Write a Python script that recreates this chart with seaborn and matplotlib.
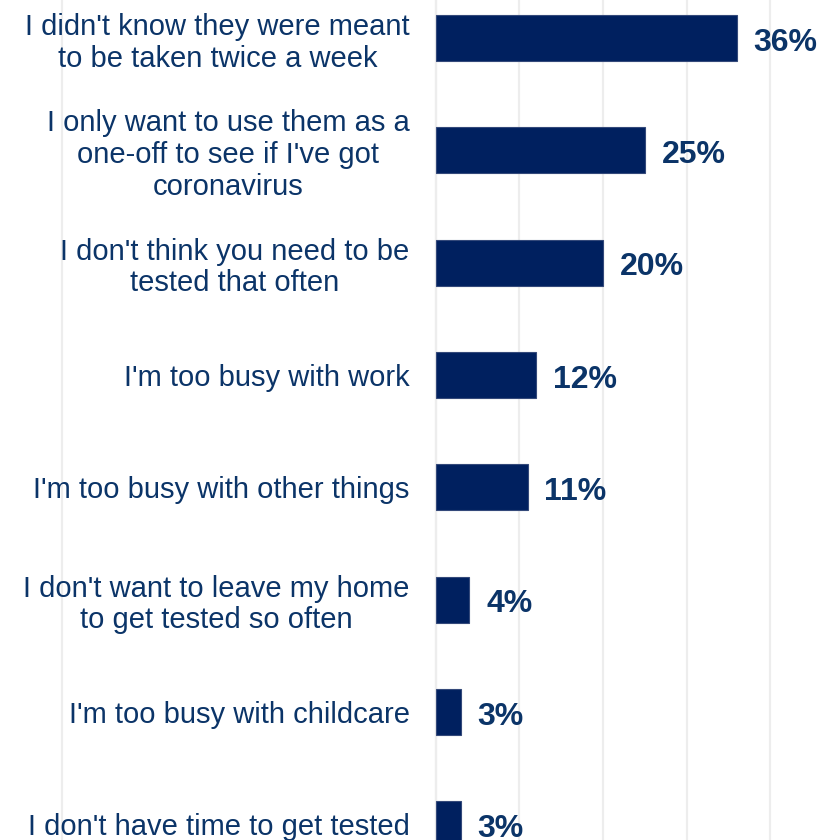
import matplotlib
matplotlib.use("Agg")
import matplotlib.pyplot as plt
from matplotlib.ticker import FixedLocator
import seaborn as sns
import pandas as pd

categories = [
    "I didn't know they were meant\nto be taken twice a week",
    "I only want to use them as a\none-off to see if I've got\ncoronavirus",
    "I don't think you need to be\ntested that often",
    "I'm too busy with work",
    "I'm too busy with other things",
    "I don't want to leave my home\nto get tested so often",
    "I'm too busy with childcare",
    "I don't have time to get tested",
]
values = [36, 25, 20, 12, 11, 4, 3, 3]
value_labels = ["36%", "25%", "20%", "12%", "11%", "4%", "3%", "3%"]
grid_ticks = [0, 10, 20, 30, 40]

BAR = "#00205F"
TEXT = "#0B3468"
GRID = "#EDEDED"

sns.set_style("white")
plt.rcParams["font.family"] = ["Liberation Sans", "DejaVu Sans"]

df = pd.DataFrame({"reason": categories, "pct": values})

fig = plt.figure(figsize=(8.39, 8.40), dpi=100)
ax = fig.add_axes([0, 0, 1, 1])

sns.barplot(data=df, x="pct", y="reason", orient="h", color=BAR,
            width=0.41, edgecolor="#34497A", linewidth=0.8, saturation=1,
            ax=ax, zorder=3)

ax.set_xlim(-52.2, 48.26)
ax.set_ylim(7.14, -0.338)

for g in grid_ticks:
    ax.axvline(g, color=GRID, lw=1.6, zorder=0)
ax.axvline(-44.8, color=GRID, lw=1.6, zorder=0)

for s in ["top", "right", "bottom"]:
    ax.spines[s].set_visible(False)
ax.spines["left"].set_position(("data", 0))
ax.spines["left"].set_color(GRID)
ax.spines["left"].set_linewidth(1.6)

ax.set_xticks([])
ax.set_xlabel("")
ax.set_ylabel("")
ax.tick_params(axis="y", which="major", length=0, pad=19, labelsize=21,
               labelcolor=TEXT)
ax.yaxis.set_minor_locator(FixedLocator([i + 0.5 for i in range(-1, len(categories))]))
ax.tick_params(axis="y", which="minor", length=6.5, width=1.6, color=GRID)
for lab in ax.get_yticklabels():
    lab.set_multialignment("center")
    lab.set_linespacing(1.17)

anns = ax.bar_label(ax.containers[0], labels=value_labels, padding=12,
                    fontsize=23, fontweight="bold", color=TEXT)
for a in anns:
    a.xyann = (12, -3.5)

fig.savefig("out.png", dpi=100)
